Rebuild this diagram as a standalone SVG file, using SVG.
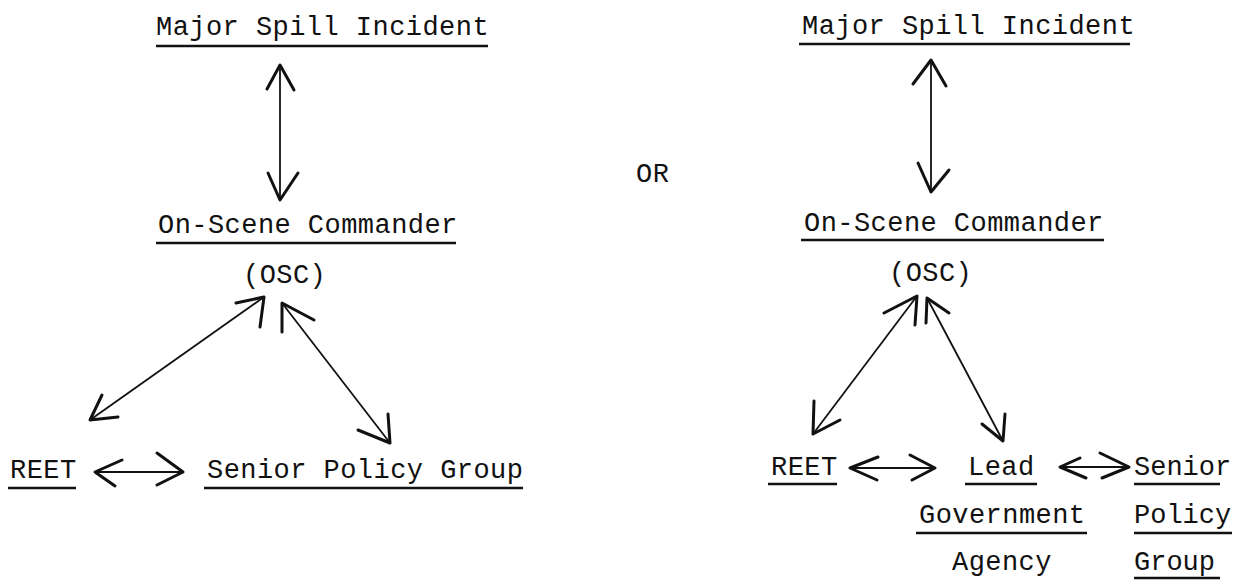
<svg xmlns="http://www.w3.org/2000/svg" width="1233" height="580" viewBox="0 0 1233 580">
<style>
text{font-family:"Liberation Mono","DejaVu Sans Mono",monospace;font-size:27px;letter-spacing:0.45px;fill:#111}
.tight{letter-spacing:0}
.ul{stroke:#111;stroke-width:2.5;fill:none}
.ln{stroke:#111;stroke-width:1.8;fill:none}
.hd{stroke:#111;stroke-width:3;fill:none;stroke-linecap:round;stroke-linejoin:round}
</style>
<rect width="1233" height="580" fill="#fff"/>
<g id="l-incident"><text x="156" y="35">Major Spill Incident</text><line class="ul" x1="156" y1="46" x2="488" y2="46"/></g>
<g id="l-osc"><text x="158" y="233">On-Scene Commander</text><line class="ul" x1="156" y1="243" x2="456" y2="243"/><text x="243" y="283">(OSC)</text></g>
<g id="l-reet"><text x="10" y="478">REET</text><line class="ul" x1="8" y1="488" x2="76" y2="488"/></g>
<g id="l-spg"><text x="207" y="478">Senior Policy Group</text><line class="ul" x1="204" y1="488" x2="523" y2="488"/></g>
<g id="or"><text x="636" y="182">OR</text></g>
<g id="r-incident"><text x="802" y="34">Major Spill Incident</text><line class="ul" x1="799" y1="44" x2="1130" y2="44"/></g>
<g id="r-osc"><text x="804" y="231">On-Scene Commander</text><line class="ul" x1="801" y1="240" x2="1104" y2="240"/><text x="889" y="281">(OSC)</text></g>
<g id="r-reet"><text x="771" y="475">REET</text><line class="ul" x1="768" y1="484" x2="837" y2="484"/></g>
<g id="r-lga"><text x="968" y="475">Lead</text><line class="ul" x1="965" y1="484" x2="1037" y2="484"/><text x="919" y="523">Government</text><line class="ul" x1="916" y1="533" x2="1087" y2="533"/><text x="952" y="570">Agency</text></g>
<g id="r-spg"><text class="tight" x="1134" y="475">Senior</text><line class="ul" x1="1134" y1="484" x2="1220" y2="484"/><text class="tight" x="1134" y="523">Policy</text><line class="ul" x1="1134" y1="533" x2="1232" y2="533"/><text class="tight" x="1134" y="570">Group</text><line class="ul" x1="1134" y1="578" x2="1220" y2="578"/></g>
<g id="connectors">
<line class="ln" x1="280" y1="65" x2="280" y2="200"/><polyline class="hd" points="267,89 280,65 294,90"/><polyline class="hd" points="268,173 280,200 298,173"/>
<line class="ln" x1="264" y1="297" x2="90" y2="420"/><polyline class="hd" points="236,303 264,297 260,327"/><polyline class="hd" points="102,395 90,420 118,417"/>
<line class="ln" x1="282" y1="303" x2="390" y2="443"/><polyline class="hd" points="282,332 282,303 314,320"/><polyline class="hd" points="388,414 390,443 358,430"/>
<line class="ln" x1="95" y1="472" x2="183" y2="472"/><polyline class="hd" points="122,460 95,472 115,486"/><polyline class="hd" points="157,453 183,472 157,485"/>
<line class="ln" x1="931" y1="60" x2="931" y2="192"/><polyline class="hd" points="913,84 931,60 946,86"/><polyline class="hd" points="918,163 931,192 949,170"/>
<line class="ln" x1="917" y1="296" x2="813" y2="434"/><polyline class="hd" points="884,313 917,296 915,325"/><polyline class="hd" points="814,401 813,434 840,420"/>
<line class="ln" x1="927" y1="298" x2="1003" y2="441"/><polyline class="hd" points="926,323 927,298 949,313"/><polyline class="hd" points="1005,414 1003,441 982,424"/>
<line class="ln" x1="850" y1="468" x2="935" y2="468"/><polyline class="hd" points="878,457 850,468 877,480"/><polyline class="hd" points="910,455 935,468 912,480"/>
<line class="ln" x1="1060" y1="467" x2="1129" y2="467"/><polyline class="hd" points="1080,458 1060,467 1086,478"/><polyline class="hd" points="1100,453 1129,467 1102,478"/>
</g>
</svg>
